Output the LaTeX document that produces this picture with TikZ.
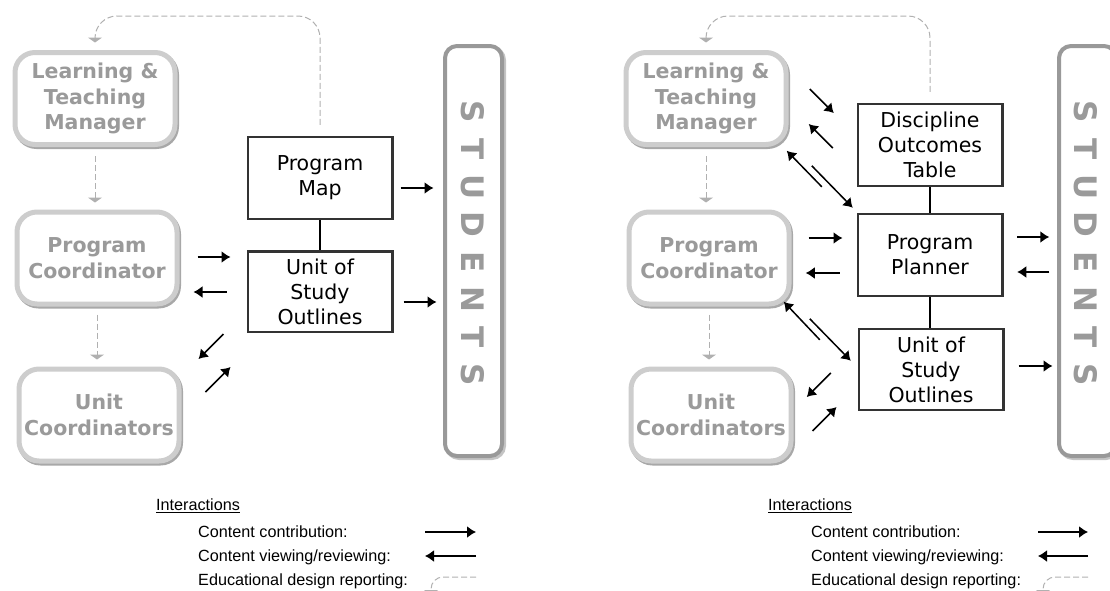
\documentclass[tikz,border=0pt]{standalone}
\usepackage{fontspec}
\setmainfont{DejaVu Sans}
\newfontfamily\legfont{Liberation Sans}
\usetikzlibrary{arrows.meta}
\definecolor{lbord}{HTML}{CDCDCD}
\definecolor{lshad}{HTML}{A8A8A8}
\definecolor{ltext}{HTML}{9A9A9A}
\definecolor{sbord}{HTML}{999999}
\definecolor{sshad}{HTML}{C4C4C4}
\definecolor{dbord}{HTML}{333333}
\definecolor{dgray}{HTML}{B0B0B0}
\tikzset{
  rolebox/.style={rectangle, rounded corners=20pt, draw=lbord, line width=5pt, fill=white,
    text=ltext, font=\bfseries\fontsize{20.5}{25.5}\selectfont, align=center,
    minimum width=160pt, minimum height=92pt, inner sep=0pt,
    preaction={draw=lshad, line width=5pt, transform canvas={shift={(1.5pt,-2pt)}}}},
  toolbox/.style={rectangle, draw=dbord, line width=2.5pt, fill=white, text=black,
    font=\fontsize{20.5}{25}\selectfont, align=center,
    minimum width=144.5pt, minimum height=82pt, inner sep=0pt},
  studbox/.style={rectangle, rounded corners=12pt, draw=sbord, line width=4pt, fill=white,
    minimum width=57pt, minimum height=410pt, inner sep=0pt,
    preaction={draw=sshad, line width=4pt, transform canvas={shift={(2pt,-2pt)}}}},
  studtext/.style={rotate=-90, text=ltext, font=\bfseries\fontsize{31}{31}\selectfont, inner sep=0pt},
  arr/.style={line width=1.5pt, -{Latex[length=9pt,width=12pt]}},
  dasharr/.style={draw=dgray, line width=1pt, dash pattern=on 6pt off 3pt,
    -{Triangle[width=14pt,length=5pt,fill=dgray]}},
  dashcurve/.style={dasharr, rounded corners=22pt},
  legtext/.style={font=\legfont\fontsize{16.2}{18}\selectfont, anchor=west, inner sep=0pt},
}
\newcommand{\studletters}{\makebox[37.5pt][c]{S}\makebox[37.5pt][c]{T}\makebox[37.5pt][c]{U}\makebox[37.5pt][c]{D}\makebox[37.5pt][c]{E}\makebox[37.5pt][c]{N}\makebox[37.5pt][c]{T}\makebox[37.5pt][c]{S}}
\begin{document}
\begin{tikzpicture}[x=1pt,y=-1pt]
\useasboundingbox (0,0) rectangle (1110,590);
\clip (0,0) rectangle (1110,590);
\coordinate (top) at (0,16);

% ================= LEFT DIAGRAM =================
\node[rolebox] (ltm) at (95,98.5) {Learning \&\\Teaching\\Manager};
\node[rolebox] (pc) at (97,258) {Program\\Coordinator};
\node[rolebox] (uc) at (99,415) {Unit\\Coordinators};
\node[toolbox] (pm) at (320,178) {Program\\Map};
\node[toolbox, minimum height=80.5pt] (uso) at (320,291.5) {Unit of\\Study\\Outlines};
\node[studbox] (st) at (473.5,251) {};
\node[studtext] (stt) at (473,243) {\studletters};

\draw[line width=2pt] (pm.south) -- (uso.north);
\draw[dasharr, shorten <=9pt, shorten >=7pt] (ltm.south) -- (ltm.south |- pc.north);
\draw[dasharr, shorten <=8pt, shorten >=7pt] (pc.south) -- (pc.south |- uc.north);
\draw[dashcurve] ([yshift=11pt]pm.north) -- (pm.north |- top) -- (ltm.north |- top) -- ([yshift=7.5pt]ltm.north);

\draw[arr] ([shift={(7,10)}]pm.east) -- ++(33,0);
\draw[arr] ([shift={(10,10.5)}]uso.east) -- ++(33,0);
\draw[arr] ([shift={(18,-1)}]pc.east) -- ++(33,0);
\draw[arr] ([shift={(-20,0.5)}]uso.west) -- ++(-33,0);
\draw[arr] ([shift={(-23,1)}]uso.south west) -- ++(-25,25);
\draw[arr] ([shift={(24,-23)}]uc.east) -- ++(25,-25);

% legend left
\node[legtext] (lint) at (156,506) {\underline{Interactions}};
\node[legtext] (lc1) at (198,532) {Content contribution:};
\node[legtext] (lc2) at (198,557) {Content viewing/reviewing:};
\node[legtext] (lc3) at (198,581) {Educational design reporting:};
\coordinate (la1) at (425,532); \coordinate (lb1) at (476,532);
\coordinate (la2) at (476,556); \coordinate (lb2) at (425,556);
\coordinate (la3) at (476,577); \coordinate (lb3) at (431,595);
\draw[arr] (la1) -- (lb1);
\draw[arr] (la2) -- (lb2);
\draw[dasharr, rounded corners=12pt] (la3) -| (lb3);

% ================= RIGHT DIAGRAM =================
\node[rolebox] (rltm) at (706,98.5) {Learning \&\\Teaching\\Manager};
\node[rolebox] (rpc) at (709,258) {Program\\Coordinator};
\node[rolebox] (ruc) at (711,415) {Unit\\Coordinators};
\node[toolbox] (dot) at (930,145) {Discipline\\Outcomes\\Table};
\node[toolbox] (pp) at (930,255) {Program\\Planner};
\node[toolbox, minimum height=81pt] (ruso) at (931,369.5) {Unit of\\Study\\Outlines};
\node[studbox] (rst) at (1087.5,251) {};
\node[studtext] (rstt) at (1086,243) {\studletters};

\draw[line width=2pt] (dot.south) -- (pp.north);
\draw[line width=2pt] (pp.south) -- (pp.south |- ruso.north);
\draw[dasharr, shorten <=9pt, shorten >=7pt] (rltm.south) -- (rltm.south |- rpc.north);
\draw[dasharr, shorten <=8pt, shorten >=7pt] (rpc.south) -- (rpc.south |- ruc.north);
\draw[dashcurve] ([yshift=11pt]dot.north) -- (dot.north |- top) -- (rltm.north |- top) -- ([yshift=7.5pt]rltm.north);

\draw[arr] ([shift={(-46.75,-56)}]dot.west) -- ++(24,24);
\draw[arr] ([shift={(-23.75,3)}]dot.west) -- ++(-24,-24);
\draw[arr] ([shift={(-34.75,-26)}]pp.north west) -- ++(-35,-36);
\draw[arr] ([shift={(-44.75,-47)}]pp.north west) -- ++(41,42);
\draw[arr] ([shift={(17,-20)}]rpc.east) -- ++(34,0);
\draw[arr] ([shift={(-16.75,18)}]pp.west) -- ++(-34,0);
\draw[arr] ([shift={(13.75,-18)}]pp.east) -- ++(32,0);
\draw[arr] ([shift={(45.75,17)}]pp.east) -- ++(-32,0);
\draw[arr] ([shift={(14,-3.5)}]ruso.east) -- ++(34,0);
\draw[arr] ([shift={(-37.75,12)}]ruso.north west) -- ++(-36,-38);
\draw[arr] ([shift={(-47.75,-9)}]ruso.north west) -- ++(41,42);
\draw[arr] ([shift={(-26.75,3.5)}]ruso.west) -- ++(-24,24);
\draw[arr] ([shift={(19,16)}]ruc.east) -- ++(24,-24);

% legend right
\node[legtext] (rint) at (768,506) {\underline{Interactions}};
\node[legtext] (rc1) at (811,532) {Content contribution:};
\node[legtext] (rc2) at (811,557) {Content viewing/reviewing:};
\node[legtext] (rc3) at (811,581) {Educational design reporting:};
\coordinate (ra1) at (1038,532); \coordinate (rb1) at (1088,532);
\coordinate (ra2) at (1088,556); \coordinate (rb2) at (1038,556);
\coordinate (ra3) at (1088,577); \coordinate (rb3) at (1043,595);
\draw[arr] (ra1) -- (rb1);
\draw[arr] (ra2) -- (rb2);
\draw[dasharr, rounded corners=12pt] (ra3) -| (rb3);
\end{tikzpicture}
\end{document}
